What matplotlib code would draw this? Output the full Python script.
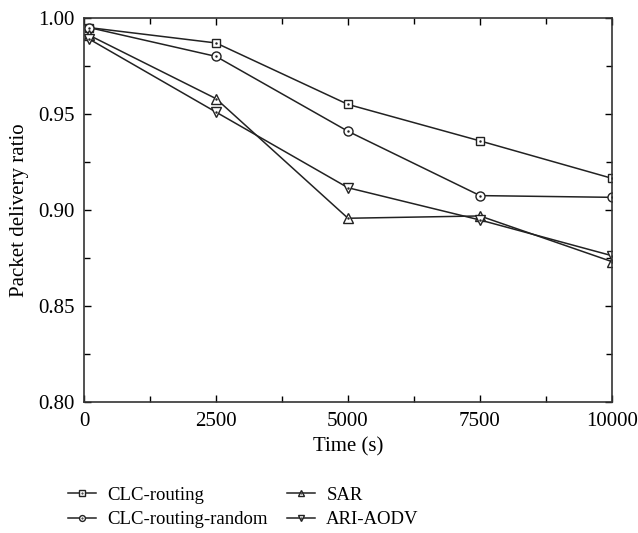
import matplotlib.pyplot as plt
from matplotlib.ticker import MultipleLocator
from matplotlib.legend_handler import HandlerTuple

plt.rcParams['font.family'] = ['Liberation Serif', 'DejaVu Serif']

tempo = [100, 2500, 5000, 7500, 10000]
clc_routing = [0.995, 0.987, 0.955, 0.936, 0.9165]
clc_random = [0.995, 0.980, 0.941, 0.9075, 0.9066]
sar = [0.991, 0.958, 0.8957, 0.8969, 0.8731]
ari_aodv = [0.989, 0.951, 0.9116, 0.8948, 0.8762]

nomes = ['CLC-routing', 'CLC-routing-random', 'SAR', 'ARI-AODV']
marcadores = ['s', 'o', '^', 'v']
tamanhos = [6, 6.5, 7, 7]
series = [clc_routing, clc_random, sar, ari_aodv]

fig = plt.figure(figsize=(6.38, 5.33), dpi=100)
ax = fig.add_axes([0.1317, 0.2458, 0.8275, 0.7204])

handles = []
for vals, m, t in zip(series, marcadores, tamanhos):
    linha, = ax.plot(tempo, vals, color='#222222', lw=1.1, marker=m, ms=t,
                     mfc='white', mec='#222222', mew=1.0)
    # ponto no centro do marcador
    ponto, = ax.plot(tempo, vals, ls='none', marker='.', ms=1.5, color='#222222')
    handles.append((linha, ponto))

ax.set_xlim(0, 10000)
ax.set_ylim(0.80, 1.00)
ax.xaxis.set_major_locator(MultipleLocator(2500))
ax.xaxis.set_minor_locator(MultipleLocator(1250))
ax.yaxis.set_major_locator(MultipleLocator(0.05))
ax.yaxis.set_minor_locator(MultipleLocator(0.025))
ax.yaxis.set_major_formatter(plt.FormatStrFormatter('%.2f'))
ax.tick_params(which='both', direction='in', top=True, right=True, labelsize=15, width=1)
ax.tick_params(which='major', length=5, pad=7)
ax.tick_params(which='minor', length=4)
for s in ax.spines.values():
    s.set_linewidth(1.2)
    s.set_color('#333333')

ax.set_xlabel('Time (s)', fontsize=15, labelpad=5)
ax.set_ylabel('Packet delivery ratio', fontsize=15, labelpad=6)

fig.legend(handles, nomes,
           handler_map={tuple: HandlerTuple(ndivide=1)},
           loc='center left', bbox_to_anchor=(0.107, 0.048), ncol=2, frameon=False,
           fontsize=13.5, handlelength=1.5, columnspacing=1.0, labelspacing=0.4,
           handletextpad=0.6, markerscale=0.65, borderpad=0, borderaxespad=0)

fig.savefig('out.png', dpi=100)
